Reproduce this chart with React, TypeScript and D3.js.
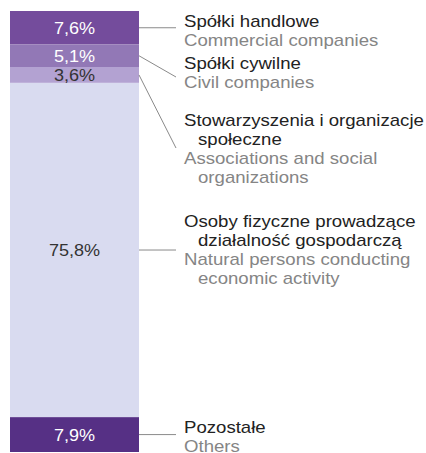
import React from "react";
import * as d3 from "d3";

const categoriesPl: string[][] = [
  ["Spółki handlowe"],
  ["Spółki cywilne"],
  ["Stowarzyszenia i organizacje", "społeczne"],
  ["Osoby fizyczne prowadzące", "działalność gospodarczą"],
  ["Pozostałe"],
];
const categoriesEn: string[][] = [
  ["Commercial companies"],
  ["Civil companies"],
  ["Associations and social", "organizations"],
  ["Natural persons conducting", "economic activity"],
  ["Others"],
];
const shares: number[] = [7.6, 5.1, 3.6, 75.8, 7.9];
const valueLabels: string[] = ["7,6%", "5,1%", "3,6%", "75,8%", "7,9%"];

const colors = ["#744c9c", "#9278b6", "#b3a2d2", "#d9dbf0", "#563085"];
const valueTextColors = ["#ffffff", "#ffffff", "#333333", "#333333", "#ffffff"];
// layout: first baseline of each legend group, and leader end y
const groupY = [27, 69, 126, 227, 433];
const leaderEndY: (number | null)[] = [null, 77, 148, null, null];

const W = 426;
const H = 453;
const barX0 = 10;
const barX1 = 139;
const textX = 184;
const indentX = 198;
const lineH = 19;
const FS = 17;
const SX = 1.095;

export default function App() {
  const y = d3.scaleLinear().domain([0, 100]).range([11, 452]);
  const stackStarts = d3.cumsum([0, ...shares.slice(0, -1)]);
  const segs = shares.map((v, i) => {
    const a = stackStarts[i];
    const b = a + v;
    return { i, y0: y(a), y1: y(b), mid: (y(a) + y(b)) / 2 };
  });

  return (
    <div style={{ position: "fixed", left: 0, top: 0 }}>
      <svg width={W} height={H} style={{ display: "block" }}
        fontFamily="'Liberation Sans', Arial, sans-serif">
        <rect x={0} y={0} width={W} height={H} fill="#ffffff" />
        {segs.map((s) => (
          <rect key={"r" + s.i} x={barX0} y={s.y0} width={barX1 - barX0}
            height={s.y1 - s.y0} fill={colors[s.i]} />
        ))}
        {segs.map((s) => (
          <text key={"v" + s.i}
            transform={`translate(${(barX0 + barX1) / 2},${s.mid + 6}) scale(${SX},1)`}
            textAnchor="middle" fontSize={16.5} fill={valueTextColors[s.i]}>
            {valueLabels[s.i]}
          </text>
        ))}
        {segs.map((s) => {
          const ey = leaderEndY[s.i] ?? s.mid;
          return (
            <line key={"l" + s.i} x1={barX1} y1={s.mid} x2={176} y2={ey}
              stroke="#8a8a8a" strokeWidth={1} />
          );
        })}
        {categoriesPl.map((pl, i) => {
          const en = categoriesEn[i];
          const lines = [
            ...pl.map((t, k) => ({ t, k, color: "#222222" })),
            ...en.map((t, k) => ({ t, k, color: "#858585" })),
          ];
          return (
            <g key={"g" + i}>
              {lines.map((ln, j) => (
                <text key={j}
                  transform={`translate(${ln.k === 0 ? textX : indentX},${groupY[i] + j * lineH}) scale(${SX},1)`}
                  fontSize={FS} fill={ln.color}>
                  {ln.t}
                </text>
              ))}
            </g>
          );
        })}
      </svg>
    </div>
  );
}
